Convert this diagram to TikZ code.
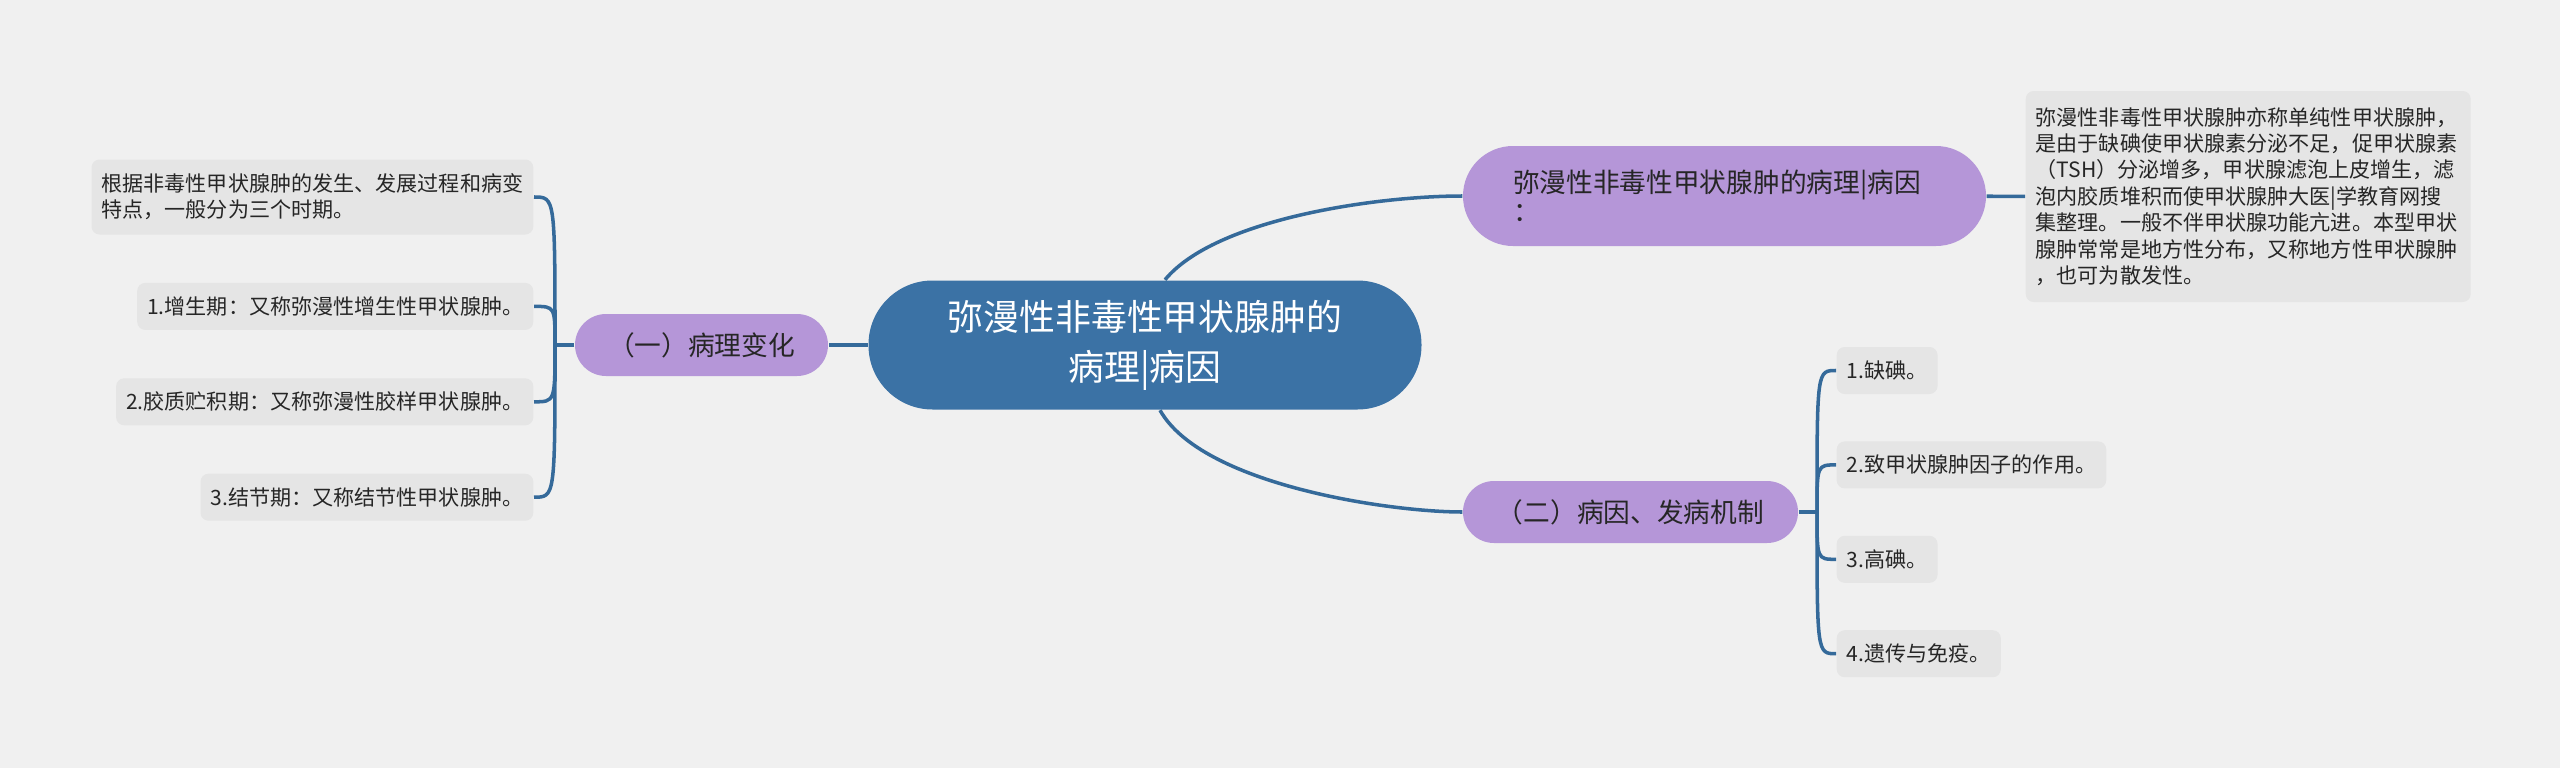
\documentclass[tikz,border=0pt]{standalone}
\usepackage{fontspec}
\setmainfont{Noto Sans CJK SC}
\usepackage{tikz}
\usetikzlibrary{positioning}
\definecolor{bgc}{HTML}{F0F0F0}
\definecolor{rootc}{HTML}{3B72A5}
\definecolor{linec}{HTML}{356A9A}
\definecolor{branchc}{HTML}{B596D8}
\definecolor{leafc}{HTML}{E5E5E5}
\definecolor{txtc}{HTML}{262626}

\begin{document}
\begin{tikzpicture}[root node/.style={rectangle, rounded corners=0.64cm, fill=rootc, text=white, minimum width=5.53cm, minimum height=1.29cm, align=center, font=\fontsize{10.2pt}{14.2pt}\selectfont},
	branch node/.style={rectangle, rounded corners=0.31cm, fill=branchc, text=txtc, minimum height=0.62cm, font=\fontsize{7.6pt}{8.6pt}\selectfont},
	leaf node/.style={rectangle, rounded corners=0.08cm, fill=leafc, text=txtc, inner xsep=0.1cm, minimum height=0.47cm, align=left, font=\fontsize{6pt}{7.4pt}\selectfont},
	link/.style={draw=linec, line width=1pt},
	bracket/.style={to path={.. controls (\tikztostart |- \tikztotarget) .. (\tikztotarget)}}]
			\useasboundingbox (0,0) rectangle (25.6,-7.68);
			\fill[bgc] (0,0) rectangle (25.6,-7.68);
			
			% Nodes
			\node[root node] (1) at (11.45,-3.45) {弥漫性非毒性甲状腺肿的\\病理|病因};
			\node[branch node, minimum width=2.53cm] (2) at (7.015,-3.45) {（一）病理变化};
			\node[leaf node, minimum height=0.75cm, anchor=east] (3) at (5.34,-1.97) {根据非毒性甲状腺肿的发生、发展过程和病变\\特点，一般分为三个时期。};
			\node[leaf node] (4) [below left=0.47cm and 0cm of 3.south east] {1.增生期：又称弥漫性增生性甲状腺肿。};
			\node[leaf node] (5) [below left=0.47cm and 0cm of 4.south east] {2.胶质贮积期：又称弥漫性胶样甲状腺肿。};
			\node[leaf node] (6) [below left=0.47cm and 0cm of 5.south east] {3.结节期：又称结节性甲状腺肿。};
			
			\node[branch node, rounded corners=0.5cm, minimum height=1cm, text width=4.23cm, inner xsep=0.5cm, align=left, font=\fontsize{7.6pt}{8.4pt}\selectfont] (7) at (17.245,-1.96) {弥漫性非毒性甲状腺肿的病理|病因\\：};
			\node[leaf node, minimum height=2.11cm, text width=4.25cm, inner xsep=0.1cm, font=\fontsize{6pt}{7.5pt}\selectfont, anchor=west] (8) at (20.25,-1.965) {弥漫性非毒性甲状腺肿亦称单纯性甲状腺肿，\\是由于缺碘使甲状腺素分泌不足，促甲状腺素\\（TSH）分泌增多，甲状腺滤泡上皮增生，滤\\泡内胶质堆积而使甲状腺肿大医|学教育网搜\\集整理。一般不伴甲状腺功能亢进。本型甲状\\腺肿常常是地方性分布，又称地方性甲状腺肿\\，也可为散发性。};
			
			\node[branch node, minimum width=3.35cm] (9) at (16.305,-5.12) {（二）病因、发病机制};
			\node[leaf node, anchor=west] (10) at (18.36,-3.705) {1.缺碘。};
			\node[leaf node] (11) [below right=0.46cm and 0cm of 10.south west] {2.致甲状腺肿因子的作用。};
			\node[leaf node] (12) [below right=0.46cm and 0cm of 11.south west] {3.高碘。};
			\node[leaf node] (13) [below right=0.46cm and 0cm of 12.south west] {4.遗传与免疫。};
			
			\coordinate (l) at (5.55,-3.45);
			\coordinate (r) at (18.17,-5.12);
			
			\path[link]
			(1) edge (2)
			(7) edge (8)
			(2) edge (l)
			(9) edge (r)
			
			(l)
			edge[bracket] (3.east)
			edge[bracket] (4.east)
			edge[bracket] (5.east)
			edge[bracket] (6.east)
			
			(r)
			edge[bracket] (10.west)
			edge[bracket] (11.west)
			edge[bracket] (12.west)
			edge[bracket] (13.west);
			
			\draw[link] ([xshift=0.2cm]1.north) .. controls (12.15,-2.19) and (13.76,-1.96) .. (7.west);
			\draw[link] ([xshift=0.15cm]1.south) .. controls (12.02,-4.85) and (13.90,-5.12) .. (9.west);
			
		\end{tikzpicture}
\end{document}
